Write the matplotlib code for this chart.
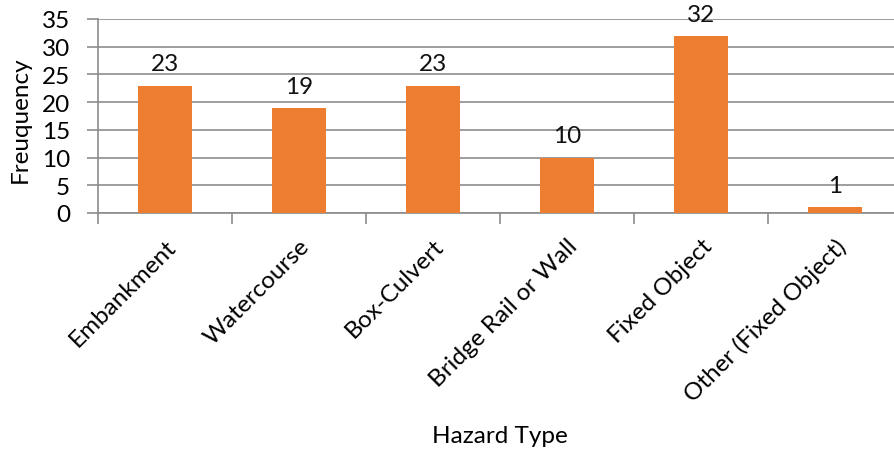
import matplotlib
matplotlib.use("Agg")
import matplotlib.pyplot as plt
import matplotlib.transforms as mtransforms
import numpy as np

categories = ["Embankment", "Watercourse", "Box-Culvert", "Bridge Rail or Wall",
              "Fixed Object", "Other (Fixed Object)"]
counts = [23, 19, 23, 10, 32, 1]
y_ticks = [0, 5, 10, 15, 20, 25, 30, 35]

plt.rcParams['font.family'] = ['Lato', 'DejaVu Sans']
FS = 17.5
GRAY = "#8c8c8c"

fig = plt.figure(figsize=(8.94, 4.56), dpi=100)
ax = fig.add_axes([98 / 894, 1 - 214 / 456, 6 * 134 / 894, 194 / 456])

x = np.arange(len(categories))
ax.bar(x, counts, width=0.4, color="#ED7D31", zorder=3)

for xi, v in zip(x, counts):
    ax.annotate(str(v), (xi, v), xytext=(0, 8), textcoords="offset points",
                ha="center", va="bottom", fontsize=FS, color="#111111")

ax.set_xlim(-0.5, len(categories) - 0.5)
ax.set_ylim(0, 35)
ax.set_yticks(y_ticks)
ax.set_yticklabels([str(t) for t in y_ticks], fontsize=FS)
ax.yaxis.grid(True, color=GRAY, linewidth=1.2, zorder=0)
ax.set_axisbelow(True)

ax.set_xticks(x)
ax.set_xticklabels(categories, rotation=45, ha="right", va="top",
                   rotation_mode="anchor", fontsize=FS)
shift = mtransforms.ScaledTranslation(7 / 100, 0, fig.dpi_scale_trans)
for lbl in ax.get_xticklabels():
    lbl.set_transform(lbl.get_transform() + shift)
ax.set_xticks(np.arange(len(categories) + 1) - 0.5, minor=True)
ax.tick_params(axis="x", which="major", length=0, pad=16)
ax.tick_params(axis="x", which="minor", length=8, color=GRAY, width=1.2)
ax.tick_params(axis="y", length=8, color=GRAY, width=1.2, pad=12)

for side in ("top", "right"):
    ax.spines[side].set_visible(False)
for side in ("left", "bottom"):
    ax.spines[side].set_color(GRAY)
    ax.spines[side].set_linewidth(1.2)

fig.text(20 / 894, 1 - 120 / 456, "Freuquency", rotation=90,
         ha="center", va="center", fontsize=FS)
fig.text(500 / 894, 1 - 437 / 456, "Hazard Type", ha="center", va="center",
         fontsize=FS)

fig.savefig("out.png", dpi=100)
